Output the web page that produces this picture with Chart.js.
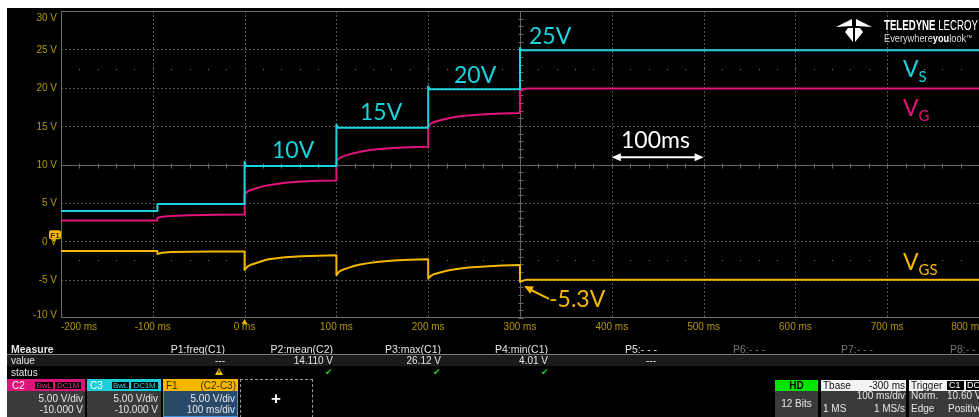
<!DOCTYPE html>
<html>
<head>
<meta charset="utf-8">
<script src="https://cdn.jsdelivr.net/npm/chart.js@4.4.1/dist/chart.umd.min.js"></script>
<style>
  html, body { margin: 0; padding: 0; background: #000; width: 979px; height: 417px; overflow: hidden; }
  body { position: relative; font-family: "Liberation Sans", Arial, sans-serif; }
  #frameTop { position: absolute; left: 0; top: 0; width: 979px; height: 8px; background: #fff; z-index: 5; }
  #frameLeft { position: absolute; left: 0; top: 0; width: 7px; height: 417px; background: #fff; z-index: 5; }
  #scope { position: absolute; left: 0; top: 0; }
  .m { position: absolute; font-size: 10px; line-height: 11px; color: #e6e6e6; white-space: nowrap; }
  .h { font-size: 10.5px; }
  .b { font-weight: bold; }
  .r { text-align: right; }
  .dim { color: #777; }
  .box { position: absolute; box-sizing: border-box; }
  .tag { position: absolute; height: 9px; box-sizing: border-box; background: #000; font-size: 8px; line-height: 7px; padding: 0; text-align: center; overflow: hidden; letter-spacing: -0.2px; }
  .ok { position: absolute; color: #2fd22f; font-family: "DejaVu Sans", sans-serif; font-size: 9px; line-height: 10px; }
  #logo { position: absolute; left: 836px; top: 17px; width: 143px; height: 30px; color: #fff; }
</style>
</head>
<body>
<canvas id="scope" width="979" height="417"></canvas>
<div id="frameTop"></div>
<div id="frameLeft"></div>

<!-- brand mark -->
<div id="logo">
  <svg width="36" height="26" style="position:absolute;left:0;top:0" viewBox="0 0 36 26">
    <polygon points="0,10 16,2 16,9" fill="#fff"/>
    <polygon points="36,10 20,2 20,9" fill="#fff"/>
    <polygon points="12,11 17,11 17,25 9,15" fill="#fff"/>
    <polygon points="24,11 19,11 19,25 27,15" fill="#fff"/>
  </svg>
  <div style="position:absolute;left:48px;top:1px;font-size:14px;line-height:14px;white-space:nowrap;transform:scaleX(0.69);transform-origin:0 0;"><b>TELEDYNE</b> LECROY</div>
  <div style="position:absolute;left:48px;top:15px;font-size:11px;line-height:12px;white-space:nowrap;color:#ddd;transform:scaleX(0.84);transform-origin:0 0;">Everywhere<b style="color:#fff">you</b>look<span style="font-size:7px;vertical-align:top">™</span></div>
</div>

<!-- measurement table -->
<div class="m b h" style="left:11px;top:344px">Measure</div>
<div class="m h r" style="left:145px;top:344px;width:80px">P1:freq(C1)</div>
<div class="m h r" style="left:253px;top:344px;width:80px">P2:mean(C2)</div>
<div class="m h r" style="left:361px;top:344px;width:80px">P3:max(C1)</div>
<div class="m h r" style="left:468px;top:344px;width:80px">P4:min(C1)</div>
<div class="m h" style="left:625px;top:344px">P5:- - -</div>
<div class="m h dim" style="left:733px;top:344px">P6:- - -</div>
<div class="m h dim" style="left:841px;top:344px">P7:- - -</div>
<div class="m h dim" style="left:950px;top:344px">P8:- - -</div>
<div class="box" style="left:7px;top:354px;width:972px;height:1px;background:#7a7a7a"></div>
<div class="box" style="left:7px;top:355px;width:972px;height:11px;background:#1b1b1b"></div>
<div class="m" style="left:11px;top:355px">value</div>
<div class="m r" style="left:145px;top:355px;width:80px">---</div>
<div class="m r" style="left:253px;top:355px;width:80px">14.110 V</div>
<div class="m r" style="left:361px;top:355px;width:80px">26.12 V</div>
<div class="m r" style="left:468px;top:355px;width:80px">4.01 V</div>
<div class="m r" style="left:576px;top:355px;width:80px">---</div>
<div class="m" style="left:11px;top:367px">status</div>
<svg class="box" style="left:215px;top:368px" width="8" height="7" viewBox="0 0 8 7">
  <polygon points="4,0 8,7 0,7" fill="#f2c200"/>
  <rect x="3.5" y="2" width="1" height="3" fill="#000"/>
</svg>
<div class="ok" style="left:325px;top:367px">✔</div>
<div class="ok" style="left:433px;top:367px">✔</div>
<div class="ok" style="left:541px;top:367px">✔</div>

<!-- channel descriptors -->
<div class="box" style="left:7px;top:379px;width:78px;height:12px;background:#de1478"></div>
<div class="m" style="left:12px;top:380px;color:#fff">C2</div>
<div class="tag" style="left:34px;top:381px;width:20px;border:1px solid #de1478;color:#e8308a">BwL</div>
<div class="tag" style="left:54px;top:381px;width:28px;border:1px solid #de1478;color:#e8308a">DC1M</div>
<div class="box" style="left:7px;top:391px;width:78px;height:26px;background:#3a3a3a"></div>
<div class="m r" style="left:3px;top:393px;width:80px">5.00 V/div</div>
<div class="m r" style="left:3px;top:404px;width:80px">-10.000 V</div>

<div class="box" style="left:87px;top:379px;width:74px;height:12px;background:#19cfd8"></div>
<div class="m" style="left:90px;top:380px;color:#fff">C3</div>
<div class="tag" style="left:111px;top:381px;width:19px;border:1px solid #19cfd8;color:#2ad8e0">BwL</div>
<div class="tag" style="left:130px;top:381px;width:29px;border:1px solid #19cfd8;color:#2ad8e0">DC1M</div>
<div class="box" style="left:87px;top:391px;width:74px;height:26px;background:#3a3a3a"></div>
<div class="m r" style="left:78px;top:393px;width:80px">5.00 V/div</div>
<div class="m r" style="left:78px;top:404px;width:80px">-10.000 V</div>

<div class="box" style="left:163px;top:379px;width:75px;height:38px;border:1px solid #3e8fdc;background:#2a4868"></div>
<div class="box" style="left:163px;top:379px;width:75px;height:12px;background:#f4b800"></div>
<div class="m" style="left:166px;top:380px;color:#3a2a00">F1</div>
<div class="m r" style="left:156px;top:380px;width:80px;color:#3a2a00">(C2-C3)</div>
<div class="m r" style="left:155px;top:393px;width:80px">5.00 V/div</div>
<div class="m r" style="left:155px;top:404px;width:80px">100 ms/div</div>

<div class="box" style="left:240px;top:379px;width:73px;height:39px;border:1px dashed #9a9a9a"></div>
<div class="m b" style="left:271px;top:390px;font-size:17px;line-height:17px;color:#fff">+</div>

<!-- acquisition status -->
<div class="box" style="left:775px;top:380px;width:43px;height:11px;background:#00e400"></div>
<div class="m b r" style="left:775px;top:380px;width:43px;text-align:center;color:#000">HD</div>
<div class="box" style="left:775px;top:391px;width:43px;height:26px;background:#3a3a3a"></div>
<div class="m" style="left:775px;top:398px;width:43px;text-align:center">12 Bits</div>

<div class="box" style="left:821px;top:380px;width:85px;height:11px;background:#f4f4f4"></div>
<div class="m" style="left:823px;top:380px;color:#111">Tbase</div>
<div class="m r" style="left:825px;top:380px;width:80px;color:#111">-300 ms</div>
<div class="box" style="left:821px;top:391px;width:85px;height:26px;background:#3a3a3a"></div>
<div class="m r" style="left:825px;top:390px;width:80px">100 ms/div</div>
<div class="m" style="left:823px;top:403px">1 MS</div>
<div class="m r" style="left:825px;top:403px;width:80px">1 MS/s</div>

<div class="box" style="left:909px;top:380px;width:70px;height:11px;background:#f4f4f4"></div>
<div class="m" style="left:911px;top:380px;color:#111">Trigger</div>
<div class="box" style="left:947px;top:381px;width:17px;height:9px;background:#000"></div>
<div class="m" style="left:949px;top:379.5px;color:#fff;font-size:9px">C1</div>
<div class="box" style="left:966px;top:381px;width:15px;height:9px;background:#000"></div>
<div class="m" style="left:967px;top:379.5px;color:#fff;font-size:9px">DC</div>
<div class="box" style="left:909px;top:391px;width:70px;height:26px;background:#3a3a3a"></div>
<div class="m" style="left:911px;top:390px">Norm.</div>
<div class="m" style="left:947px;top:390px">10.60 V</div>
<div class="m" style="left:911px;top:403px">Edge</div>
<div class="m" style="left:948px;top:403px">Positive</div>

<script>
// Horizontal (time, ms) and vertical (volts) graticule values
const timeTicks = [-200, -100, 0, 100, 200, 300, 400, 500, 600, 700, 800];
const voltTicks = [30, 25, 20, 15, 10, 5, 0, -5, -10];

// C3: source voltage V_S (steps of the supply)
const vsTime  = [-200, -95, -95, 0, 0, 1.5, 100, 100, 101.5, 200, 200, 201.5, 300, 300, 301.5, 800];
const vsVolts = [3.95, 3.95, 4.85, 4.85, 10.35, 9.8, 9.8, 15.2, 14.8, 14.8, 20.2, 19.8, 19.8, 25.2, 24.9, 24.9];

// C2: gate voltage V_G
const vgTime = [-200, -95, -95, -90, -80, -60, -30, 0,
  0, 3, 6, 12, 20, 26, 35, 44, 62, 80, 100,
  100, 103, 106, 112, 120, 126, 135, 144, 162, 180, 200,
  200, 203, 206, 212, 220, 226, 235, 244, 262, 280, 300,
  300, 304, 308, 800];
const vgVolts = [2.7, 2.7, 3.05, 3.2, 3.3, 3.4, 3.45, 3.5,
  6.1, 6.45, 6.65, 6.88, 7.15, 7.31, 7.47, 7.61, 7.79, 7.87, 7.92,
  10.45, 10.8, 11.0, 11.25, 11.5, 11.67, 11.85, 11.98, 12.15, 12.25, 12.3,
  15.0, 15.35, 15.5, 15.73, 15.97, 16.12, 16.28, 16.4, 16.56, 16.65, 16.7,
  19.6, 19.8, 19.9, 19.9];

// F1 = C2 - C3: gate-source voltage V_GS
const vgsTime = [-200, -95, -95, -90, -80, -60, -30, 0,
  0, 3, 6, 12, 20, 26, 35, 44, 62, 80, 100,
  100, 103, 106, 112, 120, 126, 135, 144, 162, 180, 200,
  200, 203, 206, 212, 220, 226, 235, 244, 262, 280, 300,
  300, 304, 308, 800];
const vgsVolts = [-1.27, -1.27, -1.65, -1.5, -1.4, -1.37, -1.35, -1.35,
  -3.74, -3.3, -3.1, -2.87, -2.55, -2.35, -2.2, -2.09, -1.96, -1.88, -1.83,
  -4.4, -3.95, -3.75, -3.5, -3.2, -3.02, -2.85, -2.7, -2.52, -2.42, -2.34,
  -4.86, -4.5, -4.3, -4.1, -3.85, -3.7, -3.55, -3.43, -3.28, -3.17, -3.1,
  -5.3, -5.1, -5.0, -5.0];

const CYAN = '#1ad3dc', MAGENTA = '#e0147a', YELLOW = '#f5b800', LABEL = '#b39608';

// Text callouts placed in data space (time ms, volts)
const notes = [
  { text: '10V', t: 29.8, v: 10.83, color: CYAN },
  { text: '15V', t: 125.7, v: 15.77, color: CYAN },
  { text: '20V', t: 228.1, v: 20.58, color: CYAN },
  { text: '25V', t: 309.8, v: 25.66, color: CYAN },
  { text: '100ms', t: 410, v: 12.13, color: '#ffffff' },
  { text: '-5.3V', t: 331.6, v: -8.56, color: YELLOW },
  { text: 'V', sub: 'S', t: 717.2, v: 21.36, color: CYAN },
  { text: 'V', sub: 'G', t: 717.2, v: 16.29, color: MAGENTA },
  { text: 'V', sub: 'GS', t: 717.2, v: -3.74, color: YELLOW }
];

const pts = (ts, vs) => ts.map((t, i) => ({ x: t, y: vs[i] }));

function arrowHead(ctx, x0, y0, x1, y1, len, half) {
  const a = Math.atan2(y1 - y0, x1 - x0);
  ctx.beginPath();
  ctx.moveTo(x1, y1);
  ctx.lineTo(x1 - len * Math.cos(a) + half * Math.sin(a), y1 - len * Math.sin(a) - half * Math.cos(a));
  ctx.lineTo(x1 - len * Math.cos(a) - half * Math.sin(a), y1 - len * Math.sin(a) + half * Math.cos(a));
  ctx.closePath();
  ctx.fill();
}

const graticule = {
  id: 'graticule',
  beforeDatasetsDraw(chart) {
    const { ctx, chartArea: a, scales: { x, y } } = chart;
    const seg = (x0, y0, x1, y1) => { ctx.beginPath(); ctx.moveTo(x0, y0); ctx.lineTo(x1, y1); ctx.stroke(); };
    const px = t => Math.round(x.getPixelForValue(t)) + 0.5;
    const py = v => Math.round(y.getPixelForValue(v)) + 0.5;
    ctx.save();
    ctx.lineWidth = 1;
    // dotted division lines
    ctx.strokeStyle = '#555';
    ctx.setLineDash([2, 2]);
    timeTicks.forEach(t => { if (t > -200 && t < 800 && t !== 300) seg(px(t), a.top, px(t), a.bottom); });
    voltTicks.forEach(v => { if (v > -10 && v < 30 && v !== 10) seg(a.left, py(v), a.right, py(v)); });
    ctx.setLineDash([]);
    // centre cross with sub-division ticks
    ctx.strokeStyle = '#666';
    const cx = px(300), cy = py(10);
    seg(a.left, cy, a.right, cy);
    seg(cx, a.top, cx, a.bottom);
    for (let t = -200; t <= 800; t += 20) seg(px(t), cy - 2, px(t), cy + 3);
    for (let v = -10; v <= 30; v += 1) seg(cx - 2, py(v), cx + 3, py(v));
    // fine dot rows
    ctx.fillStyle = '#777';
    [22.5, -2.5].forEach(v => {
      for (let t = -180; t < 800; t += 20) ctx.fillRect(Math.round(x.getPixelForValue(t)), Math.round(y.getPixelForValue(v)), 1, 1);
    });
    // frame
    ctx.strokeStyle = '#6a6a6a';
    seg(a.left + 0.5, a.top, a.left + 0.5, a.bottom);
    seg(a.left, a.top + 0.5, a.right, a.top + 0.5);
    seg(a.left, a.bottom - 0.5, a.right, a.bottom - 0.5);
    ctx.restore();
  },
  afterDatasetsDraw(chart) {
    const { ctx, chartArea: a, scales: { x, y } } = chart;
    ctx.save();
    // axis labels
    ctx.fillStyle = LABEL;
    ctx.font = '10px "Liberation Sans", Arial, sans-serif';
    ctx.textBaseline = 'alphabetic';
    ctx.textAlign = 'right';
    voltTicks.forEach(v => {
      const c = Math.min(Math.max(y.getPixelForValue(v), a.top + 6.5), a.bottom - 4);
      ctx.fillText(v + ' V', a.left - 4, c + 3.6);
    });
    timeTicks.forEach(t => {
      const label = t + ' ms';
      const w = ctx.measureText(label).width;
      let c = x.getPixelForValue(t);
      c = Math.min(Math.max(c, a.left + w / 2), a.right + 5 - w / 2);
      ctx.textAlign = 'center';
      ctx.fillText(label, c, a.bottom + 11.5);
    });
    // trigger position marker
    ctx.fillStyle = '#f0b000';
    const tx = x.getPixelForValue(0);
    ctx.beginPath();
    ctx.moveTo(tx - 3, a.bottom + 6); ctx.lineTo(tx + 3, a.bottom + 6); ctx.lineTo(tx, a.bottom + 1);
    ctx.closePath(); ctx.fill();
    // F1 reference marker at 0 V
    const zy = y.getPixelForValue(0);
    ctx.fillStyle = YELLOW;
    ctx.beginPath();
    ctx.roundRect(a.left - 12, zy - 11, 12, 9, 2);
    ctx.fill();
    ctx.beginPath();
    ctx.moveTo(a.left - 9, zy - 2); ctx.lineTo(a.left - 5, zy - 2); ctx.lineTo(a.left - 7, zy + 1);
    ctx.closePath(); ctx.fill();
    ctx.fillStyle = '#3a2a00';
    ctx.font = 'bold 8px "Liberation Sans", Arial, sans-serif';
    ctx.textAlign = 'center';
    ctx.fillText('F1', a.left - 6, zy - 3.5);

    // callout texts
    ctx.textAlign = 'left';
    notes.forEach(n => {
      const nx = x.getPixelForValue(n.t), ny = y.getPixelForValue(n.v);
      ctx.fillStyle = n.color;
      ctx.font = '23px Lato, "Open Sans", sans-serif';
      ctx.fillText(n.text, nx, ny);
      if (n.sub) {
        const w = ctx.measureText(n.text).width;
        ctx.font = '15px Lato, "Open Sans", sans-serif';
        ctx.fillText(n.sub, nx + w, ny + 5);
      }
    });
    // 100 ms span arrow
    ctx.strokeStyle = '#fff'; ctx.fillStyle = '#fff'; ctx.lineWidth = 2;
    const ay = y.getPixelForValue(10.96);
    const ax0 = x.getPixelForValue(400), ax1 = x.getPixelForValue(500);
    ctx.beginPath(); ctx.moveTo(ax0 + 6, ay); ctx.lineTo(ax1 - 6, ay); ctx.stroke();
    arrowHead(ctx, ax1, ay, ax0, ay, 9, 4);
    arrowHead(ctx, ax0, ay, ax1, ay, 9, 4);
    // pointer to the V_GS minimum
    ctx.strokeStyle = YELLOW; ctx.fillStyle = YELLOW;
    const p0x = x.getPixelForValue(331.7), p0y = y.getPixelForValue(-7.52);
    const p1x = x.getPixelForValue(304.4), p1y = y.getPixelForValue(-5.83);
    ctx.beginPath(); ctx.moveTo(p0x, p0y); ctx.lineTo(p1x + 5, p1y + 3); ctx.stroke();
    arrowHead(ctx, p0x, p0y, p1x, p1y, 9, 4);
    ctx.restore();
  }
};

const trace = (label, data, color) => ({
  label, data, borderColor: color, borderWidth: 2, pointRadius: 0,
  tension: 0, fill: false, borderJoinStyle: 'round'
});

new Chart(document.getElementById('scope'), {
  type: 'line',
  data: {
    datasets: [
      trace('V_S', pts(vsTime, vsVolts), CYAN),
      trace('V_G', pts(vgTime, vgVolts), MAGENTA),
      trace('V_GS', pts(vgsTime, vgsVolts), YELLOW)
    ]
  },
  options: {
    responsive: false,
    animation: false,
    devicePixelRatio: 1,
    parsing: false,
    layout: { padding: { left: 61, top: 11, right: 0, bottom: 99 } },
    scales: {
      x: { type: 'linear', min: -200, max: 800, display: false },
      y: { type: 'linear', min: -10, max: 30, display: false }
    },
    plugins: { legend: { display: false }, tooltip: { enabled: false } }
  },
  plugins: [graticule]
});
</script>
</body>
</html>
